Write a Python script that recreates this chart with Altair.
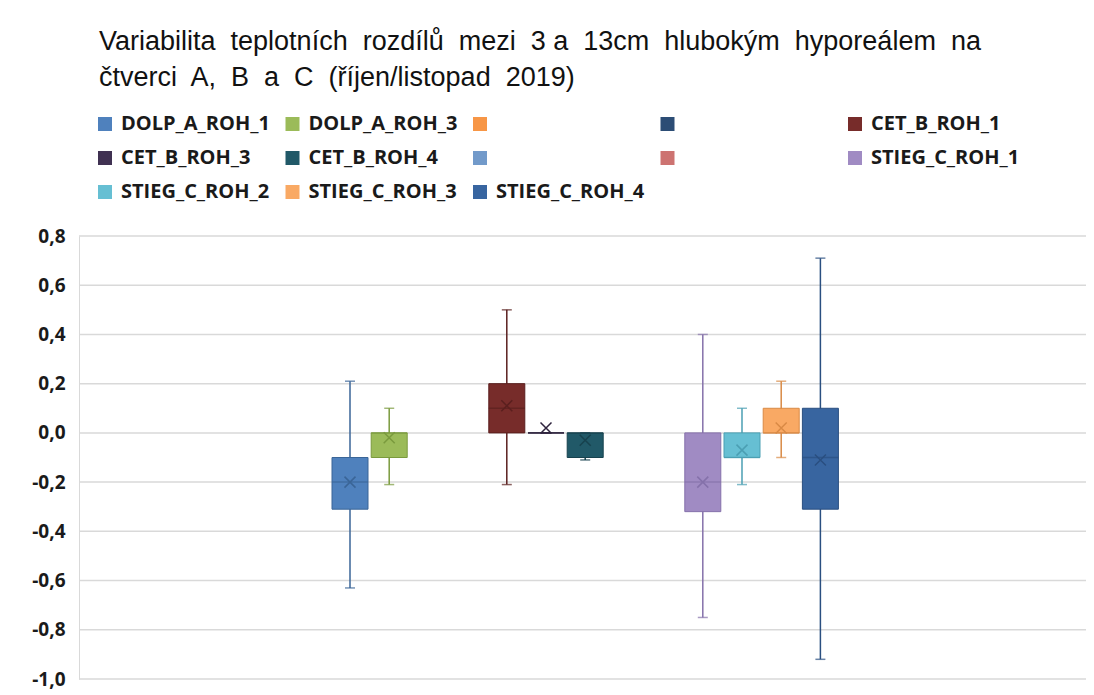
import altair as alt
import pandas as pd

# ---- data ----
series_ids = ["DOLP_A_ROH_1", "DOLP_A_ROH_3", "blank_1", "blank_2",
              "CET_B_ROH_1", "CET_B_ROH_3", "CET_B_ROH_4", "blank_3", "blank_4",
              "STIEG_C_ROH_1", "STIEG_C_ROH_2", "STIEG_C_ROH_3", "STIEG_C_ROH_4"]
whisker_low = [-0.63, -0.21, None, None, -0.21, 0.00, -0.11, None, None, -0.75, -0.21, -0.10, -0.92]
q1 =          [-0.31, -0.10, None, None,  0.00, 0.00, -0.10, None, None, -0.32, -0.10,  0.00, -0.31]
median =      [-0.20,  0.00, None, None,  0.10, 0.00,  0.00, None, None, -0.20, -0.10,  0.00, -0.10]
q3 =          [-0.10,  0.00, None, None,  0.20, 0.00,  0.00, None, None,  0.00,  0.00,  0.10,  0.10]
whisker_high = [0.21,  0.10, None, None,  0.50, 0.00,  0.00, None, None,  0.40,  0.10,  0.21,  0.71]
mean =        [-0.20, -0.02, None, None,  0.11, 0.02, -0.03, None, None, -0.20, -0.07,  0.02, -0.11]

y_ticks = [-1.0, -0.8, -0.6, -0.4, -0.2, 0.0, 0.2, 0.4, 0.6, 0.8]

GAP = "\u00a0 "
title_lines = [GAP.join(["Variabilita", "teplotních", "rozdílů", "mezi", "3 a", "13cm",
                         "hlubokým", "hyporeálem", "na"]),
               GAP.join(["čtverci", "A,", "B", "a", "C", "(říjen/listopad", "2019)"])]

# ---- styles ----
fill_colors = ["#4F81BD", "#9BBB59", "#F79646", "#2C4D75", "#772C2A", "#403152",
               "#215968", "#729ACA", "#CD7371", "#A08BC3", "#66BFD3", "#F9A964", "#3865A0"]
line_colors = ["#3A6597", "#7A9A3D", "#C47128", "#1F3A5A", "#5A1F1E", "#2E233D",
               "#17424E", "#5A7EAA", "#A85856", "#8571AA", "#4B9FB3", "#D98A45", "#2A4F80"]

df = pd.DataFrame({
    "series": series_ids, "wlow": whisker_low, "q1": q1, "median": median,
    "q3": q3, "whigh": whisker_high, "mean": mean,
})
df = df.dropna()
grid_df = pd.DataFrame({"v": y_ticks})

x_enc = alt.X("series:N",
              scale=alt.Scale(domain=series_ids, range=[253, 759.4],
                              paddingInner=0.0816, paddingOuter=0),
              axis=None)
y_scale = alt.Scale(domain=[-1.0, 0.8], nice=False, zero=False)

fill_scale = alt.Scale(domain=series_ids, range=fill_colors)
line_scale = alt.Scale(domain=series_ids, range=line_colors)

grid = alt.Chart(grid_df).mark_rule(color="#d9d9d9", strokeWidth=1.5).encode(
    y=alt.Y("v:Q", scale=y_scale,
            axis=alt.Axis(values=y_ticks, title=None, grid=False,
                          labelExpr="replace(replace(format(datum.value, '.1f'), '.', ','), '\u2212', '-')")),
)

base = alt.Chart(df)

whiskers = base.mark_rule(strokeWidth=1.5).encode(
    x=x_enc,
    y=alt.Y("wlow:Q", scale=y_scale),
    y2="whigh:Q",
    stroke=alt.Stroke("series:N", scale=line_scale, legend=None),
)

cap_low = base.mark_tick(size=10, thickness=1.5).encode(
    x=x_enc, y=alt.Y("wlow:Q", scale=y_scale),
    fill=alt.Fill("series:N", scale=line_scale, legend=None),
)
cap_high = base.mark_tick(size=10, thickness=1.5).encode(
    x=x_enc, y=alt.Y("whigh:Q", scale=y_scale),
    fill=alt.Fill("series:N", scale=line_scale, legend=None),
)

boxes = base.mark_bar(strokeWidth=1).encode(
    x=x_enc,
    y=alt.Y("q1:Q", scale=y_scale),
    y2="q3:Q",
    fill=alt.Fill("series:N", scale=fill_scale,
                  legend=alt.Legend(
                      title=None, orient="none", legendX=16, legendY=-122,
                      direction="horizontal", columns=5, gridAlign="all",
                      columnPadding=12.5, rowPadding=14, padding=0,
                      symbolType="square", symbolSize=196, symbolStrokeWidth=0,
                      symbolOpacity=1, labelFont="Open Sans", labelFontWeight="bold",
                      labelFontSize=20, labelColor="#1a1a1a", labelOffset=6,
                      labelLimit=300,
                      labelExpr="indexof(datum.label, 'blank') >= 0 ? '' : datum.label",
                  )),
    stroke=alt.Stroke("series:N", scale=line_scale, legend=None),
)

medians = base.mark_tick(size=36, thickness=1.5).encode(
    x=x_enc, y=alt.Y("median:Q", scale=y_scale),
    fill=alt.Fill("series:N", scale=line_scale, legend=None),
)

means = base.mark_point(shape="M-1,-1L1,1M-1,1L1,-1", size=121, filled=False,
                        strokeWidth=1.5, opacity=1).encode(
    x=x_enc, y=alt.Y("mean:Q", scale=y_scale),
    stroke=alt.Stroke("series:N", scale=line_scale, legend=None),
)

chart = alt.layer(grid, whiskers, boxes, cap_low, cap_high, medians, means).resolve_scale(
    fill="independent"
).properties(
    width=1007, height=443,
    autosize=alt.AutoSizeParams(type="none"),
    padding={"left": 71, "top": 228, "right": 0, "bottom": 14},
    title=alt.TitleParams(
        text=title_lines, anchor="start", frame="group", dx=20, offset=22,
        font="Liberation Sans", fontSize=27, fontWeight="normal",
        color="#111111", lineHeight=36,
    ),
).configure_view(
    stroke=None
).configure_axisY(
    domain=True, domainColor="#d9d9d9", domainWidth=1,
    grid=False, ticks=False, labelFont="Open Sans", labelFontWeight="bold",
    labelFontSize=19, labelColor="#1a1a1a", labelPadding=14,
)

chart.save("out.html", embed_options={"renderer": "svg", "actions": False})
